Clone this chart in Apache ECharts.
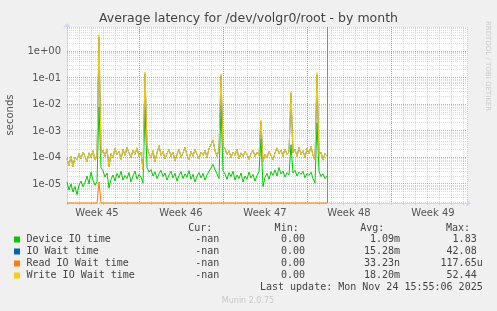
<!DOCTYPE html>
<html><head><meta charset="utf-8">
<script src="https://cdn.jsdelivr.net/npm/echarts@6/dist/echarts.min.js"></script>
<style>html,body{margin:0;padding:0;background:#F0F0F0}#c{width:497px;height:311px}</style>
</head><body><div id="c"></div>
<script>
// ---- text ----
const titleText = 'Average latency for /dev/volgr0/root - by month';
const yAxisName = 'seconds';
const sideText = 'RRDTOOL / TOBI OETIKER';
const lastUpdate = 'Last update: Mon Nov 24 15:55:06 2025';
const footerText = 'Munin 2.0.75';

// ---- x axis (days from left edge of plot) ----
const weekLabels = ['Week 45', 'Week 46', 'Week 47', 'Week 48', 'Week 49'];
const weekLabelDays = [2.5, 9.5, 16.5, 23.5, 30.5];
const weekStartDays = [6, 13, 20, 27];
const lastDataDay = 21.69;
const xMinDay = 0, xMaxDay = 33.333;
const sampleStepDays = 1 / 6;   // one sample every 4 hours

// ---- y axis (log, seconds) ----
const yMin = 1.92e-6, yMax = 8.32;
const yMajorTicks = [1e-5, 1e-4, 1e-3, 1e-2, 1e-1, 1e0];

// ---- series ----
const deviceVals = [
1.2e-5,6e-6,1.0e-5,5e-6,8e-6,4e-6,9e-6,1.3e-5,8e-6,1.1e-5,
2.0e-5,1.0e-5,2.8e-5,1.4e-5,9e-6,1.2e-5,8e-3,4e-5,3.2e-5,1.8e-5,
2.6e-5,7e-6,1.5e-5,2.2e-5,1.3e-5,2.5e-5,1.7e-5,3.0e-5,1.4e-5,2.1e-5,
1.6e-5,2.7e-5,1.2e-5,2.0e-5,3.1e-5,1.5e-5,2.3e-5,1.8e-5,1.1e-5,7e-3,
4.2e-5,2.8e-5,3.5e-5,2.0e-5,2.9e-5,1.6e-5,2.4e-5,3.3e-5,1.9e-5,2.6e-5,
1.4e-5,2.2e-5,3.0e-5,1.7e-5,2.5e-5,1.3e-5,2.1e-5,2.9e-5,1.6e-5,2.4e-5,
1.8e-5,3.2e-5,1.5e-5,2.3e-5,1.2e-5,2.0e-5,2.7e-5,1.7e-5,2.5e-5,1.4e-5,
2.2e-5,3.0e-5,4.0e-5,5.5e-5,3.5e-5,2.4e-5,1.6e-5,9e-3,3.2e-5,2.4e-5,
1.5e-5,2.7e-5,1.9e-5,3.0e-5,1.4e-5,2.2e-5,1.6e-5,2.6e-5,1.2e-5,2.0e-5,
1.5e-5,2.8e-5,1.7e-5,2.3e-5,1.3e-5,2.1e-5,2.9e-5,5e-4,8e-6,1.8e-5,
2.5e-5,1.5e-5,2.9e-5,2.1e-5,3.4e-5,2.0e-5,4.2e-5,2.4e-5,3.1e-5,1.8e-5,
2.7e-5,2.2e-5,3e-4,2.6e-5,3.3e-5,2.0e-5,2.8e-5,2.3e-5,3.0e-5,1.7e-5,
2.5e-5,2.1e-5,2.8e-5,1.6e-5,1.1e-5,2e-3,3.0e-5,1.9e-5,2.4e-5,1.6e-5,
2.0e-5];
const ioWaitVals = [
9e-5,5e-5,1.1e-4,4.5e-5,1.0e-4,8e-5,1.4e-4,9e-5,1.6e-4,1.1e-4,
7e-5,1.5e-4,1.0e-4,1.8e-4,8e-5,1.2e-4,3.4,1.3e-4,1.9e-4,1.1e-4,
2.1e-4,4.5e-5,1.4e-4,1.0e-4,2.2e-4,1.3e-4,1.7e-4,8.5e-5,2.0e-4,1.2e-4,
2.4e-4,1.5e-4,1.0e-4,1.9e-4,1.3e-4,2.3e-4,1.1e-4,1.6e-4,3.5e-5,0.14,
2.6e-4,1.4e-4,1.0e-4,1.8e-4,7e-5,1.5e-4,2.8e-4,1.2e-4,1.7e-4,9e-5,
1.4e-4,2.0e-4,1.1e-4,1.6e-4,7.5e-5,1.3e-4,2.1e-4,1.0e-4,1.5e-4,2.4e-4,
1.2e-4,8e-5,1.7e-4,1.1e-4,2.0e-4,1.3e-4,9e-5,1.6e-4,1.2e-4,1.9e-4,
1.0e-4,2.2e-4,3.0e-4,4.6e-4,1.8e-4,1.1e-4,2.0e-4,0.12,2.5e-4,2.2e-4,
1.3e-4,1.8e-4,1.0e-4,1.6e-4,1.2e-4,2.0e-4,9e-5,1.5e-4,1.1e-4,1.7e-4,
1.3e-4,8.5e-5,1.4e-4,1.9e-4,1.1e-4,1.6e-4,1.2e-4,2.2e-3,7e-5,1.3e-4,
1.0e-4,1.7e-4,1.2e-4,8e-5,1.5e-4,2.3e-4,1.4e-4,1.9e-4,1.1e-4,2.1e-4,
1.3e-4,1.6e-4,0.026,1.5e-4,2.0e-4,1.1e-4,2.4e-4,1.3e-4,1.8e-4,1.0e-4,
2.2e-4,1.4e-4,2.6e-4,1.2e-4,8e-5,0.13,1.2e-4,1.6e-4,8e-5,1.4e-4,
1.1e-4];
const readVals = [
0,0,0,0,0,0,0,0,0,0,
0,0,0,0,0,0,1.2e-5,0,0,0,
0,0,0,0,0,0,0,0,0,0,
0,0,0,0,0,0,0,0,0,0,
0,0,0,0,0,0,0,0,0,0,
0,0,0,0,0,0,0,0,0,0,
0,0,0,0,0,0,0,0,0,0,
0,0,0,0,0,0,0,0,0,0,
0,0,0,0,0,0,0,0,0,0,
0,0,0,0,0,0,0,0,0,0,
0,0,0,0,0,0,0,0,0,0,
0,0,0,0,0,0,0,0,0,0,
0,0,0,0,0,0,0,0,0,0,
0];
const writeVals = [
9e-5,5e-5,1.1e-4,4.5e-5,1.0e-4,8e-5,1.4e-4,9e-5,1.6e-4,1.1e-4,
7e-5,1.5e-4,1.0e-4,1.8e-4,8e-5,1.2e-4,4.3,1.3e-4,1.9e-4,1.1e-4,
2.1e-4,4.5e-5,1.4e-4,1.0e-4,2.2e-4,1.3e-4,1.7e-4,8.5e-5,2.0e-4,1.2e-4,
2.4e-4,1.5e-4,1.0e-4,1.9e-4,1.3e-4,2.3e-4,1.1e-4,1.6e-4,3.5e-5,0.17,
2.6e-4,1.4e-4,1.0e-4,1.8e-4,7e-5,1.5e-4,2.8e-4,1.2e-4,1.7e-4,9e-5,
1.4e-4,2.0e-4,1.1e-4,1.6e-4,7.5e-5,1.3e-4,2.1e-4,1.0e-4,1.5e-4,2.4e-4,
1.2e-4,8e-5,1.7e-4,1.1e-4,2.0e-4,1.3e-4,9e-5,1.6e-4,1.2e-4,1.9e-4,
1.0e-4,2.2e-4,3.0e-4,4.6e-4,1.8e-4,1.1e-4,2.0e-4,0.14,2.5e-4,2.2e-4,
1.3e-4,1.8e-4,1.0e-4,1.6e-4,1.2e-4,2.0e-4,9e-5,1.5e-4,1.1e-4,1.7e-4,
1.3e-4,8.5e-5,1.4e-4,1.9e-4,1.1e-4,1.6e-4,1.2e-4,2.6e-3,7e-5,1.3e-4,
1.0e-4,1.7e-4,1.2e-4,8e-5,1.5e-4,2.3e-4,1.4e-4,1.9e-4,1.1e-4,2.1e-4,
1.3e-4,1.6e-4,0.031,1.5e-4,2.0e-4,1.1e-4,2.4e-4,1.3e-4,1.8e-4,1.0e-4,
2.2e-4,1.4e-4,2.6e-4,1.2e-4,8e-5,0.16,1.2e-4,1.6e-4,8e-5,1.4e-4,
1.1e-4];

// ---- legend table ----
const legendNames = ['Device IO time', 'IO Wait time', 'Read IO Wait time', 'Write IO Wait time'];
const statHeaders = ['Cur:', 'Min:', 'Avg:', 'Max:'];
const curVals = ['-nan', '-nan', '-nan', '-nan'];
const minVals = ['0.00', '0.00', '0.00', '0.00'];
const avgVals = ['1.09m', '15.28m', '33.23n', '18.20m'];
const maxVals = ['1.83', '42.08', '117.65u', '52.44'];

// ---- styles ----
const seriesColors = ['#00CC00', '#0066B3', '#FF8000', '#FFCC00'];
const AXIS_COLOR = '#CFD6F8';
const MINOR_GRID = 'rgba(140,140,140,0.32)';
const MAJOR_GRID = 'rgba(224,80,80,0.55)';
const NOW_LINE = '#888888';
const MONO = '10px "DejaVu Sans Mono"';
const SANS = '"DejaVu Sans"';

const chart = echarts.init(document.getElementById('c'), null, {renderer: 'canvas'});

function toPoints(vals) {
  // rrdtool draws values below the axis minimum on the bottom edge
  return vals.map((v, i) => [i * sampleStepDays, Math.max(v, yMin)]);
}

// horizontal grid values: minor (2..9 x 10^n) and major (decades)
const hGridData = [];
for (let e = -7; e <= 0; e++) {
  for (let m = 2; m <= 9; m++) {
    const v = m * Math.pow(10, e);
    if (v > yMin && v < yMax) hGridData.push([xMinDay, v, 0]);
  }
}
yMajorTicks.forEach(v => hGridData.push([xMinDay, v, 1]));
// vertical marks: week starts (major) and the end-of-data rule
const vGridData = weekStartDays.map(d => [d, yMin, 1]).concat([[lastDataDay, yMin, 2]]);

function renderHGrid(params, api) {
  const cs = params.coordSys;
  const p = api.coord([api.value(0), api.value(1)]);
  const y = Math.floor(p[1]) + 0.5;
  const major = api.value(2) === 1;
  return {
    type: 'line', silent: true,
    shape: {x1: cs.x, y1: y, x2: cs.x + cs.width, y2: y},
    style: {stroke: major ? MAJOR_GRID : MINOR_GRID, lineWidth: 1, lineDash: [1, 1]}
  };
}
function renderVGrid(params, api) {
  const cs = params.coordSys;
  const p = api.coord([api.value(0), api.value(1)]);
  const x = Math.floor(p[0]) + 0.5;
  const kind = api.value(2);
  return {
    type: 'line', silent: true,
    shape: {x1: x, y1: cs.y, x2: x, y2: cs.y + cs.height},
    style: kind === 2 ? {stroke: NOW_LINE, lineWidth: 1} : {stroke: MAJOR_GRID, lineWidth: 1, lineDash: [1, 1]}
  };
}

const dataSeries = [deviceVals, ioWaitVals, readVals, writeVals].map((vals, k) => ({
  name: legendNames[k],
  type: 'line',
  xAxisIndex: 0,
  yAxisIndex: 0,
  data: toPoints(vals),
  showSymbol: false,
  symbol: 'none',
  clip: false,
  z: 3,
  lineStyle: {color: seriesColors[k], width: 1},
  itemStyle: {color: seriesColors[k]},
  animation: false
}));

function logLabel(v) {
  const e = Math.round(Math.log10(v));
  const a = Math.abs(e);
  return '1e' + (e < 0 ? '-' : '+') + (a < 10 ? '0' : '') + a;
}

// legend table graphics
const graphics = [];
const rowY0 = 239.5, rowStep = 12;
const CH = 6.02;
const fieldEnd = [225.3, 311, 400, 482.7];
const headerEnd = [212.3, 298.7, 384.3, 470];
statHeaders.forEach((h, c) => graphics.push({
  type: 'text', x: headerEnd[c], y: 228,
  style: {text: h, font: MONO, fill: '#444', textAlign: 'right', textVerticalAlign: 'middle'}
}));
const cols = [curVals, minVals, avgVals, maxVals];
legendNames.forEach((name, r) => {
  const y = rowY0 + r * rowStep;
  graphics.push({type: 'rect', shape: {x: 14, y: y - 3, width: 6, height: 6}, style: {fill: seriesColors[r]}});
  graphics.push({type: 'text', x: 26.5, y: y,
    style: {text: name, font: MONO, fill: '#444', textAlign: 'left', textVerticalAlign: 'middle'}});
  cols.forEach((col, c) => {
    const s = col[r];
    const hasUnit = /[a-zA-Z]$/.test(s) && s !== '-nan';
    graphics.push({type: 'text', x: fieldEnd[c] - (hasUnit ? 0 : CH), y: y,
      style: {text: s, font: MONO, fill: '#444', textAlign: 'right', textVerticalAlign: 'middle'}});
  });
});
graphics.push({type: 'text', x: 482.7, y: 287.5,
  style: {text: lastUpdate, font: MONO, fill: '#444', textAlign: 'right', textVerticalAlign: 'middle'}});
graphics.push({type: 'text', x: 248, y: 300.5,
  style: {text: footerText, font: '8px ' + SANS, fill: '#C8C8C8', textAlign: 'center', textVerticalAlign: 'middle'}});
graphics.push({type: 'text', x: 10, y: 115, rotation: Math.PI / 2,
  style: {text: yAxisName, font: '10px ' + SANS, fill: '#555', textAlign: 'center', textVerticalAlign: 'middle'}});
graphics.push({type: 'text', x: 488, y: 66, rotation: -Math.PI / 2,
  style: {text: sideText, font: '7px ' + SANS, fill: '#CCCCCC', textAlign: 'center', textVerticalAlign: 'middle'}});

const option = {
  backgroundColor: '#F0F0F0',
  animation: false,
  textStyle: {fontFamily: 'DejaVu Sans'},
  title: {
    text: titleText, left: 'center', top: 12, padding: 0,
    textStyle: {fontSize: 12.5, fontWeight: 'normal', color: '#444', fontFamily: 'DejaVu Sans'}
  },
  grid: {left: 67, top: 27, width: 400, height: 176, show: true, backgroundColor: '#FFFFFF', borderWidth: 0},
  xAxis: [
    {
      type: 'value', gridIndex: 0, position: 'bottom', min: xMinDay, max: xMaxDay, interval: 1,
      axisLine: {show: true, lineStyle: {color: AXIS_COLOR, width: 1}, symbol: ['none', 'arrow'], symbolSize: [6, 5], symbolOffset: [0, 4]},
      axisTick: {show: true, length: 2, lineStyle: {color: '#CCCCCC'}},
      axisLabel: {show: false},
      splitLine: {show: true, lineStyle: {color: MINOR_GRID, type: [1, 1], width: 1}}
    },
    {
      type: 'value', gridIndex: 0, position: 'bottom', min: xMinDay, max: xMaxDay, interval: 0.5,
      axisLine: {show: false}, axisTick: {show: false}, splitLine: {show: false},
      axisLabel: {
        show: true, margin: 5, fontSize: 10, color: '#555', fontFamily: 'DejaVu Sans',
        formatter: v => {
          const k = weekLabelDays.findIndex(d => Math.abs(d - v) < 1e-6);
          return k >= 0 ? weekLabels[k] : '';
        }
      }
    }
  ],
  yAxis: {
    type: 'log', logBase: 10, min: yMin, max: yMax,
    axisLine: {show: true, lineStyle: {color: AXIS_COLOR, width: 1}, symbol: ['none', 'arrow'], symbolSize: [6, 5], symbolOffset: [0, 4]},
    axisTick: {show: false},
    splitLine: {show: false},
    minorSplitLine: {show: false},
    axisLabel: {fontSize: 10, color: '#555', margin: 6, fontFamily: 'DejaVu Sans',
      showMinLabel: false, showMaxLabel: false, formatter: logLabel}
  },
  graphic: graphics,
  series: [
    {type: 'custom', xAxisIndex: 0, yAxisIndex: 0, z: 1, silent: true, clip: false,
      renderItem: renderHGrid, data: hGridData, encode: {x: 0, y: 1}},
    {type: 'custom', xAxisIndex: 0, yAxisIndex: 0, z: 1, silent: true, clip: false,
      renderItem: renderVGrid, data: vGridData, encode: {x: 0, y: 1}}
  ].concat(dataSeries)
};
chart.setOption(option);
</script></body></html>
